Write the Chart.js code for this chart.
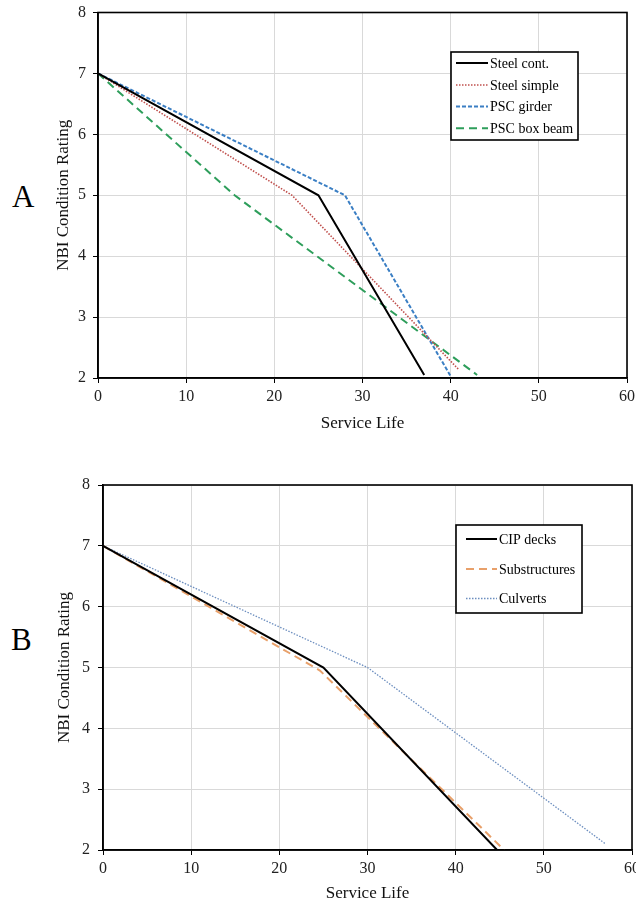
<!DOCTYPE html>
<html>
<head>
<meta charset="utf-8">
<title>NBI Condition Rating vs Service Life</title>
<script src="https://cdn.jsdelivr.net/npm/chart.js"></script>
<style>
  html, body { margin: 0; padding: 0; background: #fff; overflow: hidden; }
  body { width: 636px; height: 902px; position: relative; }
  canvas { position: absolute; left: 0; }
  #chartA { top: 0; }
  #chartB { top: 440px; }
  .panel { position: absolute; font-family: 'Liberation Serif', 'Times New Roman', serif; font-size: 31px; color: #000; }
</style>
</head>
<body>
<div class="panel" style="left:12px; top:179px;">A</div>
<div class="panel" style="left:11px; top:622px;">B</div>
<canvas id="chartA" width="636" height="440"></canvas>
<canvas id="chartB" width="636" height="465"></canvas>

<script>
// ---- data ----
// panel A
const steelContLife = [0, 25, 37];
const steelContRating = [7, 5, 2.05];
const steelSimpleLife = [0, 22, 40.9];
const steelSimpleRating = [7, 5, 2.14];
const pscGirderLife = [0, 28, 40];
const pscGirderRating = [7, 5, 2.03];
const pscBoxLife = [0, 15.5, 43];
const pscBoxRating = [7, 5, 2.05];

// panel B
const cipDeckLife = [0, 25, 44.7];
const cipDeckRating = [7, 5, 2];
const substrLife = [0, 24.6, 45.5];
const substrRating = [7, 4.95, 2];
const culvertLife = [0, 30, 57];
const culvertRating = [7, 5, 2.1];

// axis ticks
const xMin = 0, xMax = 60, xStep = 10;
const yMin = 2, yMax = 8, yStep = 1;
const xTitle = 'Service Life';
const yTitle = 'NBI Condition Rating';

const serif = "'Liberation Serif', 'Times New Roman', serif";

function pts(xs, ys) {
    return xs.map((x, i) => ({ x: x, y: ys[i] }));
}

function series(label, xs, ys, color, width, dash) {
    return {
        label: label,
        data: pts(xs, ys),
        borderColor: color,
        backgroundColor: color,
        borderWidth: width,
        borderDash: dash,
        pointRadius: 0,
        tension: 0,
        fill: false
    };
}

// black frame round the plot area
const frameBox = {
    id: 'frameBox',
    afterDatasetsDraw(chart) {
        const a = chart.chartArea;
        const ctx = chart.ctx;
        ctx.save();
        ctx.strokeStyle = '#000';
        ctx.lineWidth = 1.6;
        ctx.strokeRect(a.left, a.top, a.right - a.left, a.bottom - a.top);
        ctx.restore();
    }
};

// legend in a box inside the plot
const boxLegend = {
    id: 'boxLegend',
    afterDraw(chart, args, opts) {
        const ctx = chart.ctx;
        ctx.save();
        ctx.fillStyle = '#fff';
        ctx.fillRect(opts.x, opts.y, opts.w, opts.h);
        ctx.strokeStyle = '#000';
        ctx.lineWidth = 1.6;
        ctx.strokeRect(opts.x, opts.y, opts.w, opts.h);
        ctx.font = opts.fontSize + 'px ' + serif;
        ctx.textBaseline = 'middle';
        ctx.textAlign = 'left';
        chart.data.datasets.forEach((ds, i) => {
            const y = opts.rows[i];
            ctx.strokeStyle = ds.borderColor;
            ctx.lineWidth = ds.borderWidth;
            ctx.setLineDash(ds.borderDash || []);
            ctx.beginPath();
            ctx.moveTo(opts.lineX, y);
            ctx.lineTo(opts.lineX + opts.lineW, y);
            ctx.stroke();
            ctx.setLineDash([]);
            ctx.fillStyle = '#000';
            ctx.fillText(ds.label, opts.textX, y + 1);
        });
        ctx.restore();
    }
};

function makeChart(id, datasets, area, legend) {
    const canvas = document.getElementById(id);
    return new Chart(canvas, {
        type: 'line',
        data: { datasets: datasets },
        options: {
            responsive: false,
            animation: false,
            devicePixelRatio: 1,
            layout: { padding: { top: area.top, right: canvas.width - area.right, left: 0, bottom: 0 } },
            plugins: {
                legend: { display: false },
                tooltip: { enabled: false },
                boxLegend: legend
            },
            scales: {
                x: {
                    type: 'linear',
                    min: xMin, max: xMax,
                    ticks: { stepSize: xStep, color: '#222', padding: 4, font: { family: serif, size: 16 } },
                    grid: { color: '#d9d9d9', lineWidth: 1, tickColor: '#000', tickLength: 5 },
                    border: { color: '#000', width: 1.6 },
                    title: { display: true, text: xTitle, color: '#111', font: { family: serif, size: 17 }, padding: { top: 0, bottom: area.xTitlePad } },
                    afterFit(scale) {
                        scale.height = canvas.height - area.bottom;
                        scale.paddingLeft = 0;
                        scale.paddingRight = 0;
                    }
                },
                y: {
                    type: 'linear',
                    min: yMin, max: yMax,
                    ticks: { stepSize: yStep, color: '#222', padding: area.yTickPad, font: { family: serif, size: 16 } },
                    grid: { color: '#d9d9d9', lineWidth: 1, tickColor: '#000', tickLength: 5 },
                    border: { color: '#000', width: 1.6 },
                    title: { display: true, text: yTitle, color: '#111', font: { family: serif, size: 17 }, padding: { top: area.yTitleX - 10.2, bottom: 0 } },
                    afterFit(scale) {
                        scale.width = area.left;
                        scale.paddingTop = 0;
                        scale.paddingBottom = 0;
                    }
                }
            }
        },
        plugins: [frameBox, boxLegend]
    });
}

makeChart('chartA', [
    series('Steel cont.', steelContLife, steelContRating, '#000000', 2, []),
    series('Steel simple', steelSimpleLife, steelSimpleRating, '#C0504D', 1.6, [1.5, 1.5]),
    series('PSC girder', pscGirderLife, pscGirderRating, '#3B7FC4', 2, [4, 2]),
    series('PSC box beam', pscBoxLife, pscBoxRating, '#2E9E5B', 2, [8, 5])
], { left: 98, right: 627, top: 12.5, bottom: 378, xTitlePad: 6, yTickPad: 7, yTitleX: 64 },
{ x: 451, y: 52, w: 127, h: 88, rows: [63, 85, 106.5, 128.3], lineX: 456, lineW: 32, textX: 490, fontSize: 14 });

makeChart('chartB', [
    series('CIP decks', cipDeckLife, cipDeckRating, '#000000', 2, []),
    series('Substructures', substrLife, substrRating, '#E8A06A', 2, [8, 5]),
    series('Culverts', culvertLife, culvertRating, '#6C8EBF', 1.3, [1.5, 1.5])
], { left: 103, right: 632, top: 45, bottom: 410, xTitlePad: 1, yTickPad: 8, yTitleX: 65 },
{ x: 456, y: 85, w: 126, h: 88, rows: [99, 129, 158.5], lineX: 466, lineW: 31, textX: 499, fontSize: 14 });
</script>
</body>
</html>
